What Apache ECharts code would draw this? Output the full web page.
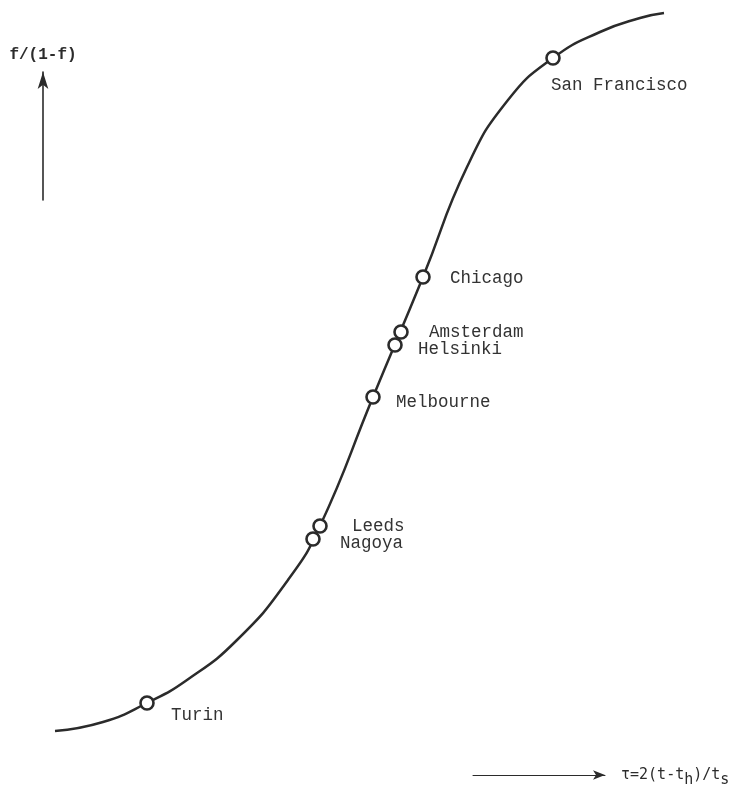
<!DOCTYPE html>
<html>
<head>
<meta charset="utf-8">
<script src="https://cdn.jsdelivr.net/npm/echarts@6/dist/echarts.min.js"></script>
<style>
  html, body { margin: 0; padding: 0; background: #fff; }
  #chart { width: 732px; height: 793px; }
</style>
</head>
<body>
<div id="chart"></div>
<script>
// Logistic substitution curve traced in plot units (x to the right, y upward)
const curveX = [55, 103, 147, 187, 237, 288, 320, 373, 423, 467, 508, 553, 600, 640, 664];
const curveY = [62, 71, 90, 113, 153, 213, 267, 396, 516, 626, 693, 735, 761, 775, 780];

// Cities placed along the curve
const cities = ['Turin', 'Nagoya', 'Leeds', 'Melbourne', 'Helsinki', 'Amsterdam', 'Chicago', 'San Francisco'];
const cityX = [147, 313, 320, 373, 395, 401, 423, 553];
const cityY = [90, 254, 267, 396, 448, 461, 516, 735];

// Axis captions
const yCaption = 'f/(1-f)';
const xCaption = ['τ=2(t-t', 'h', ')/t', 's'];

// Where each city name sits relative to its marker
const labelOffsets = {
  'Turin': [24, 12],
  'Nagoya': [27, 4],
  'Leeds': [32, 0],
  'Melbourne': [23, 5],
  'Helsinki': [23, 4],
  'Amsterdam': [28, 0],
  'Chicago': [27, 1],
  'San Francisco': [-2, 27]
};

const ink = '#2b2b2b';
const mono = '"Liberation Mono", "DejaVu Sans Mono", monospace';

const chart = echarts.init(document.getElementById('chart'), null, { renderer: 'canvas' });

const curveData = curveX.map((x, i) => [x, curveY[i]]);
const cityData = cities.map((name, i) => ({
  name: name,
  value: [cityX[i], cityY[i]],
  label: { offset: labelOffsets[name] }
}));

const hiddenAxis = (gi, min, max) => ({
  gridIndex: gi, type: 'value', min: min, max: max, show: false
});

chart.setOption({
  animation: false,
  backgroundColor: '#fff',
  grid: [
    { left: 0, right: 0, top: 0, bottom: 0 },
    // vertical arrow: f/(1-f)
    { left: 43, top: 72, width: 1, height: 128 },
    // horizontal arrow: tau
    { left: 473, top: 774, width: 132, height: 1 }
  ],
  xAxis: [
    hiddenAxis(0, 0, 732),
    hiddenAxis(1, 0, 1),
    {
      gridIndex: 2, type: 'value', min: 0, max: 1, position: 'bottom',
      axisLine: { show: true, symbol: ['none', 'arrow'], symbolSize: [7, 12], lineStyle: { color: ink, width: 1 } },
      axisTick: { show: false }, axisLabel: { show: false }, splitLine: { show: false },
      name: '{a|' + xCaption[0] + '}{s|' + xCaption[1] + '}{a|' + xCaption[2] + '}{s|' + xCaption[3] + '}',
      nameLocation: 'end', nameGap: 16,
      nameTextStyle: {
        align: 'left', verticalAlign: 'middle',
        rich: {
          a: { fontFamily: '"DejaVu Sans Mono", monospace', fontSize: 15, color: ink, lineHeight: 18 },
          s: { fontFamily: '"DejaVu Sans Mono", monospace', fontSize: 15, color: ink, padding: [10, 0, 0, 0], lineHeight: 18 }
        }
      }
    }
  ],
  yAxis: [
    hiddenAxis(0, 0, 793),
    {
      gridIndex: 1, type: 'value', min: 0, max: 1, position: 'left',
      axisLine: { show: true, symbol: ['none', 'arrow'], symbolSize: [8, 17], lineStyle: { color: ink, width: 1.6 } },
      axisTick: { show: false }, axisLabel: { show: false }, splitLine: { show: false },
      name: yCaption, nameLocation: 'end', nameGap: 9,
      nameTextStyle: { fontFamily: mono, fontSize: 16, fontWeight: 'bold', color: ink, align: 'center' }
    },
    hiddenAxis(2, 0, 1)
  ],
  series: [
    {
      type: 'line',
      xAxisIndex: 0, yAxisIndex: 0,
      data: curveData,
      smooth: 0.5,
      showSymbol: false,
      lineStyle: { color: ink, width: 2.5 },
      z: 2
    },
    {
      type: 'scatter',
      xAxisIndex: 0, yAxisIndex: 0,
      data: cityData,
      symbol: 'circle',
      symbolSize: 13,
      itemStyle: { color: '#fff', borderColor: ink, borderWidth: 2.6, opacity: 1 },
      label: {
        show: true,
        position: 'inside',
        align: 'left',
        verticalAlign: 'middle',
        formatter: '{b}',
        fontFamily: mono,
        fontSize: 17.5,
        color: '#333'
      },
      z: 3
    }
  ]
});
</script>
</body>
</html>
